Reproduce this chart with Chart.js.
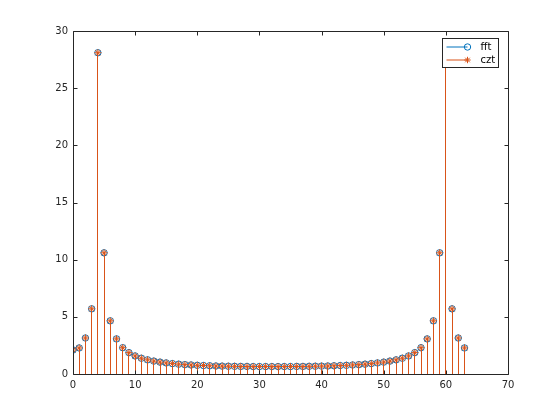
<!DOCTYPE html>
<html>
<head>
<meta charset="utf-8">
<script src="https://cdn.jsdelivr.net/npm/chart.js@4"></script>
<style>body{margin:0;background:#fff}</style>
</head>
<body>
<canvas id="myChart" width="560" height="420"></canvas>
<script>
// bin index 0..63
var bins = [];
for (var i = 0; i < 64; i++) bins.push(i);

// magnitudes
var fftMag = [2.10, 2.28, 3.15, 5.70, 28.1, 10.6, 4.65, 3.07, 2.30, 1.87,
              1.58, 1.38, 1.24, 1.13, 1.04, 0.97, 0.91, 0.86, 0.82, 0.79,
              0.76, 0.74, 0.72, 0.70, 0.69, 0.68, 0.67, 0.66, 0.66, 0.65,
              0.65, 0.65, 0.65, 0.65, 0.65, 0.65, 0.66, 0.66, 0.67, 0.68,
              0.69, 0.70, 0.72, 0.74, 0.76, 0.79, 0.82, 0.86, 0.91, 0.97,
              1.04, 1.13, 1.24, 1.38, 1.58, 1.87, 2.30, 3.07, 4.65, 10.6,
              28.1, 5.70, 3.15, 2.28];
var cztMag = [2.10, 2.28, 3.15, 5.70, 28.1, 10.6, 4.65, 3.07, 2.30, 1.87,
              1.58, 1.38, 1.24, 1.13, 1.04, 0.97, 0.91, 0.86, 0.82, 0.79,
              0.76, 0.74, 0.72, 0.70, 0.69, 0.68, 0.67, 0.66, 0.66, 0.65,
              0.65, 0.65, 0.65, 0.65, 0.65, 0.65, 0.66, 0.66, 0.67, 0.68,
              0.69, 0.70, 0.72, 0.74, 0.76, 0.79, 0.82, 0.86, 0.91, 0.97,
              1.04, 1.13, 1.24, 1.38, 1.58, 1.87, 2.30, 3.07, 4.65, 10.6,
              28.1, 5.70, 3.15, 2.28];
var seriesNames = ['fft', 'czt'];
var xTicks = [0, 10, 20, 30, 40, 50, 60, 70];
var yTicks = [0, 5, 10, 15, 20, 25, 30];

var blue = '#0072BD';
var orange = '#D95319';
var axisCol = '#262626';

function pts(vals) {
    return bins.map(function(k, i) { return {x: k, y: vals[i]}; });
}

// snap the 1px stems to whole pixels so they don't blur
var snapPlugin = {
    id: 'snap',
    beforeDatasetDraw: function(chart, args) {
        if (args.meta.type !== 'bar') return;
        args.meta.data.forEach(function(el) { el.x = Math.floor(el.x) + 0.5; });
    }
};

// box + inward ticks + legend drawn on top, MATLAB style
var boxPlugin = {
    id: 'box',
    afterDraw: function(chart) {
        var ctx = chart.ctx, a = chart.chartArea;
        var xs = chart.scales.x, ys = chart.scales.y;
        var L = Math.round(a.left) + 0.5, R = Math.round(a.right) + 0.5;
        var T = Math.round(a.top) + 0.5, B = Math.round(a.bottom) + 0.5;
        ctx.save();
        ctx.strokeStyle = axisCol;
        ctx.lineWidth = 1;
        ctx.beginPath();
        ctx.moveTo(L, T); ctx.lineTo(R, T); ctx.lineTo(R, B);
        ctx.lineTo(L, B); ctx.lineTo(L, T);
        xTicks.forEach(function(v) {
            var p = Math.round(xs.getPixelForValue(v)) + 0.5;
            ctx.moveTo(p, B); ctx.lineTo(p, B - 4);
            ctx.moveTo(p, T); ctx.lineTo(p, T + 4);
        });
        yTicks.forEach(function(v) {
            var p = Math.round(ys.getPixelForValue(v)) + 0.5;
            ctx.moveTo(L, p); ctx.lineTo(L + 4, p);
            ctx.moveTo(R, p); ctx.lineTo(R - 4, p);
        });
        ctx.stroke();

        // legend
        var lx = R - 66, ly = T + 7, lw = 56, lh = 29;
        ctx.fillStyle = '#fff';
        ctx.fillRect(lx, ly, lw, lh);
        ctx.strokeStyle = axisCol;
        ctx.strokeRect(lx, ly, lw, lh);
        ctx.font = '10px "DejaVu Sans"';
        ctx.textBaseline = 'middle';
        var cols = [blue, orange];
        var styles = ['circle', 'star'];
        for (var s = 0; s < 2; s++) {
            var yy = ly + 8.5 + s * 13;
            ctx.strokeStyle = cols[s];
            ctx.fillStyle = 'rgba(0,0,0,0)';
            ctx.beginPath();
            ctx.moveTo(lx + 4, yy); ctx.lineTo(lx + 25, yy);
            ctx.stroke();
            Chart.helpers.drawPoint(ctx, {pointStyle: styles[s], radius: 3.2, borderWidth: 1}, lx + 25, yy);
            ctx.fillStyle = '#000';
            ctx.fillText(seriesNames[s], lx + 38, yy);
        }
        ctx.restore();
    }
};

Chart.defaults.font.family = '"DejaVu Sans", sans-serif';
Chart.defaults.font.size = 10;
Chart.defaults.color = axisCol;

var chart = new Chart('myChart', {
    type: 'bar',
    data: {
        datasets: [
            {type: 'bar', label: seriesNames[0] + ' stem', data: pts(fftMag), backgroundColor: blue,
             barThickness: 1, inflateAmount: 0, borderWidth: 0, grouped: false, order: 4},
            {type: 'scatter', label: seriesNames[0], data: pts(fftMag), showLine: false,
             pointStyle: 'circle', pointRadius: 3.2, borderColor: blue, borderWidth: 1,
             backgroundColor: 'rgba(0,0,0,0)', order: 3},
            {type: 'bar', label: seriesNames[1] + ' stem', data: pts(cztMag), backgroundColor: orange,
             barThickness: 1, inflateAmount: 0, borderWidth: 0, grouped: false, order: 2},
            {type: 'scatter', label: seriesNames[1], data: pts(cztMag), showLine: false,
             pointStyle: 'star', pointRadius: 3.6, borderColor: orange, borderWidth: 1, order: 1}
        ]
    },
    options: {
        responsive: false,
        animation: false,
        events: [],
        layout: {padding: {left: 0, right: 52, top: 31, bottom: 26}},
        plugins: {legend: {display: false}, tooltip: {enabled: false}},
        scales: {
            x: {
                type: 'linear', min: 0, max: 70, offset: false,
                grid: {display: false, drawTicks: false}, border: {display: false},
                ticks: {stepSize: 10, padding: 5, maxRotation: 0},
                afterFit: function(axis) { axis.height = 20; }
            },
            y: {
                type: 'linear', min: 0, max: 30,
                grid: {display: false, drawTicks: false}, border: {display: false},
                ticks: {stepSize: 5, padding: 5},
                afterFit: function(axis) { axis.width = 73; }
            }
        }
    },
    plugins: [snapPlugin, boxPlugin]
});
</script>
</body>
</html>
